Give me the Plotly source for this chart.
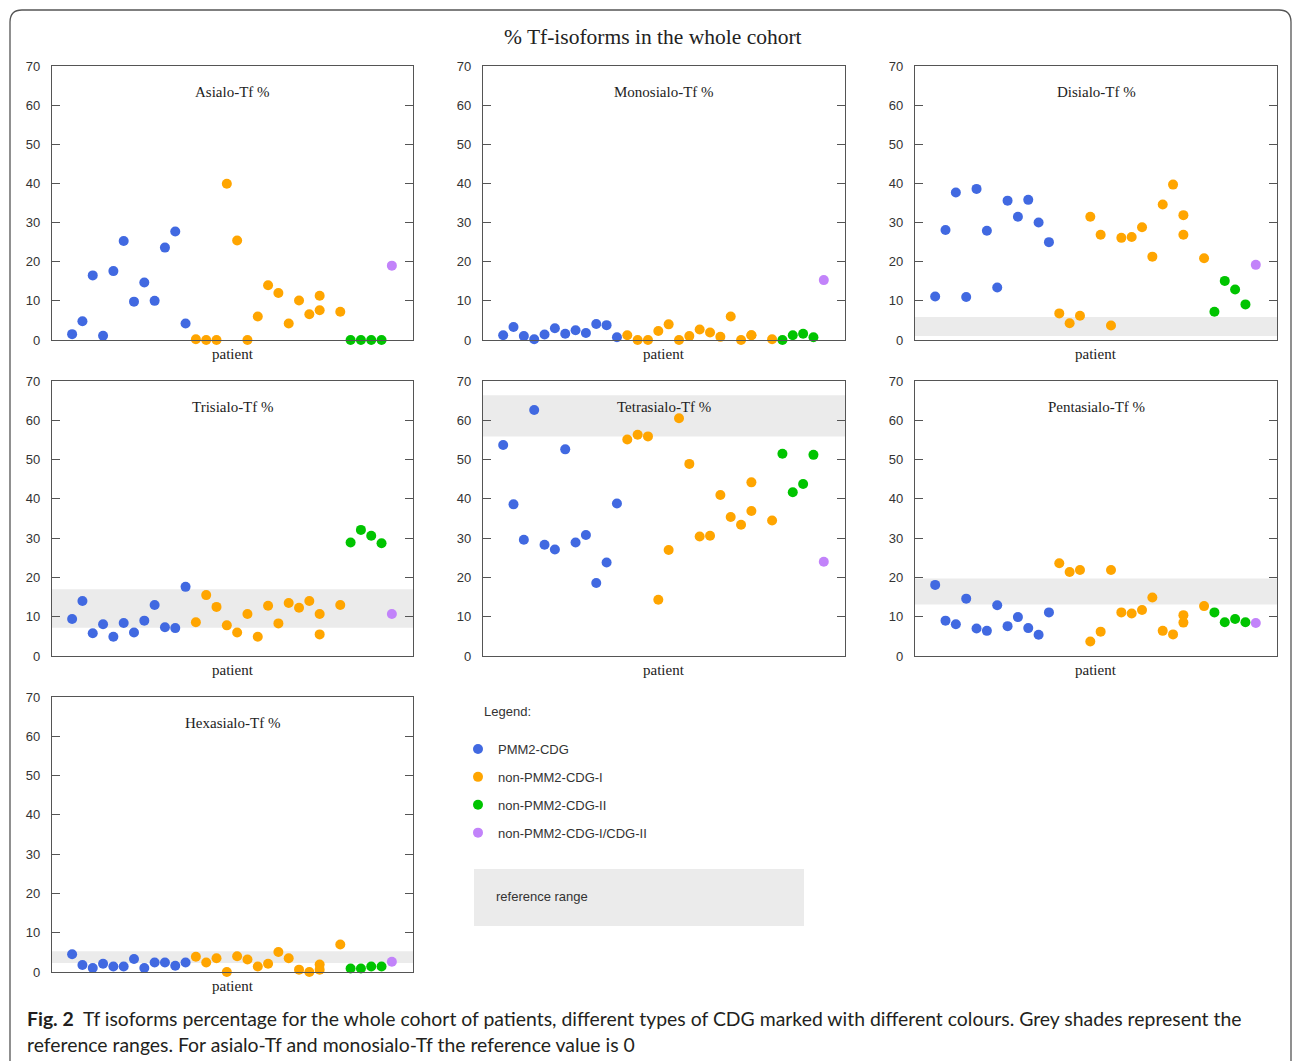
import plotly.graph_objects as go
from plotly.subplots import make_subplots

# ---------------- data ----------------
groups = ["PMM2-CDG", "non-PMM2-CDG-I", "non-PMM2-CDG-II", "non-PMM2-CDG-I/CDG-II"]
group_colors = ["#4169E1", "#FFA500", "#00C400", "#C283FA"]

patient_pmm2 = [1, 2, 3, 4, 5, 6, 7, 8, 9, 10, 11, 12]
patient_non1 = [13, 14, 15, 16, 17, 18, 19, 20, 21, 22, 23, 24, 25, 25, 27]
patient_non2 = [28, 29, 30, 31]
patient_mixed = [32]

isoforms = ["Asialo-Tf %", "Monosialo-Tf %", "Disialo-Tf %", "Trisialo-Tf %",
            "Tetrasialo-Tf %", "Pentasialo-Tf %", "Hexasialo-Tf %"]

asialo_pmm2 = [1.5, 4.8, 16.5, 1.1, 17.6, 25.3, 9.8, 14.7, 10.0, 23.6, 27.7, 4.2]
asialo_non1 = [0.2, 0, 0, 39.9, 25.4, 0, 6.0, 14.0, 12.0, 4.2, 10.1, 6.6, 7.6, 11.3, 7.2]
asialo_non2 = [0, 0, 0, 0]
asialo_mixed = [19.0]

mono_pmm2 = [1.2, 3.3, 1.0, 0.2, 1.4, 3.0, 1.6, 2.5, 1.8, 4.1, 3.8, 0.7]
mono_non1 = [1.2, 0, 0, 2.3, 4.0, 0, 1.0, 2.7, 1.9, 0.8, 6.0, 0, 1.2, 1.2, 0.2]
mono_non2 = [0, 1.2, 1.6, 0.7]
mono_mixed = [15.3]

di_pmm2 = [11.1, 28.1, 37.7, 11.0, 38.6, 27.9, 13.4, 35.6, 31.5, 35.8, 30.0, 25.0]
di_non1 = [6.8, 4.3, 6.2, 31.5, 26.9, 3.7, 26.1, 26.3, 28.8, 21.3, 34.6, 39.7, 31.9, 26.9, 20.9]
di_non2 = [7.2, 15.1, 12.9, 9.1]
di_mixed = [19.2]

tri_pmm2 = [9.4, 14.0, 5.8, 8.1, 4.9, 8.4, 6.0, 9.0, 13.0, 7.3, 7.1, 17.6]
tri_non1 = [8.6, 15.5, 12.5, 7.8, 6.0, 10.7, 4.9, 12.8, 8.3, 13.5, 12.3, 14.0, 10.7, 5.5, 13.0]
tri_non2 = [28.9, 32.1, 30.6, 28.7]
tri_mixed = [10.7]

tetra_pmm2 = [53.7, 38.6, 29.6, 62.6, 28.3, 27.1, 52.6, 28.9, 30.8, 18.6, 23.8, 38.8]
tetra_non1 = [55.1, 56.3, 55.9, 14.3, 27.0, 60.5, 48.9, 30.4, 30.6, 41.0, 35.4, 33.4, 44.2, 36.9, 34.5]
tetra_non2 = [51.5, 41.7, 43.8, 51.2]
tetra_mixed = [24.0]

penta_pmm2 = [18.1, 9.0, 8.1, 14.6, 7.0, 6.4, 12.9, 7.6, 9.9, 7.1, 5.4, 11.1]
penta_non1 = [23.6, 21.4, 21.9, 3.7, 6.2, 21.9, 11.1, 10.8, 11.7, 14.9, 6.4, 5.5, 10.4, 8.5, 12.7]
penta_non2 = [11.1, 8.6, 9.4, 8.6]
penta_mixed = [8.4]

hexa_pmm2 = [4.5, 1.8, 1.0, 2.1, 1.4, 1.4, 3.3, 1.0, 2.4, 2.4, 1.6, 2.4]
hexa_non1 = [3.9, 2.4, 3.5, 0, 4.0, 3.2, 1.4, 2.1, 5.1, 3.5, 0.6, 0, 1.9, 0.6, 7.0]
hexa_non2 = [0.9, 0.9, 1.4, 1.4]
hexa_mixed = [2.6]

# reference ranges (None = reference value is 0)
ref_low = [None, None, 1.0, 7.2, 55.9, 13.1, 2.3]
ref_high = [None, None, 5.9, 17.0, 66.4, 19.7, 5.3]

y_ticks = [0, 10, 20, 30, 40, 50, 60, 70]

series = [
    [asialo_pmm2, asialo_non1, asialo_non2, asialo_mixed],
    [mono_pmm2, mono_non1, mono_non2, mono_mixed],
    [di_pmm2, di_non1, di_non2, di_mixed],
    [tri_pmm2, tri_non1, tri_non2, tri_mixed],
    [tetra_pmm2, tetra_non1, tetra_non2, tetra_mixed],
    [penta_pmm2, penta_non1, penta_non2, penta_mixed],
    [hexa_pmm2, hexa_non1, hexa_non2, hexa_mixed],
]
patients = [patient_pmm2, patient_non1, patient_non2, patient_mixed]

# ---------------- layout helpers ----------------
W, H = 1293, 1061
def px(x):
    return x / W
def py(y):
    return 1 - y / H

col_px = [(52, 413), (483, 845), (915, 1277)]
row_px = [(66, 340), (381, 656), (697, 972)]
positions = [(0, 0), (0, 1), (0, 2), (1, 0), (1, 1), (1, 2), (2, 0)]

fig = make_subplots(rows=3, cols=3,
                    specs=[[{}, {}, {}], [{}, {}, {}], [{}, None, None]])

serif = "Liberation Serif, Times New Roman, serif"
sans = "Liberation Sans, Arial, sans-serif"
line_col = "#555555"

annotations = []
shapes = []
for i, name in enumerate(isoforms):
    r, c = positions[i]
    for g in range(4):
        fig.add_trace(go.Scatter(
            x=patients[g], y=series[i][g], mode="markers",
            marker=dict(color=group_colors[g], size=10, line=dict(width=0)),
            name=groups[g], legendgroup=groups[g], showlegend=(i == 0),
            cliponaxis=False,
            hovertemplate=name + "<br>patient %{x}: %{y}<extra>" + groups[g] + "</extra>"),
            row=r + 1, col=c + 1)
    x0, x1 = col_px[c]
    y0, y1 = row_px[r]
    fig.update_xaxes(domain=[px(x0), px(x1)], range=[-0.95, 34.05], automargin=False,
                     showticklabels=False, ticks="", showgrid=False, zeroline=False,
                     showline=True, mirror=True, linecolor=line_col, linewidth=1.3,
                     row=r + 1, col=c + 1)
    fig.update_yaxes(domain=[py(y1), py(y0)], range=[0, 70], tickvals=y_ticks,
                     automargin=False,
                     ticks="inside", ticklen=8, tickwidth=1.3, tickcolor=line_col,
                     showgrid=False, zeroline=False,
                     showline=True, mirror="ticks", linecolor=line_col, linewidth=1.3,
                     tickfont=dict(family=sans, size=13, color="#333333"),
                     ticklabelstandoff=8,
                     row=r + 1, col=c + 1)
    # subplot title
    annotations.append(dict(text=name, x=px((x0 + x1) / 2), y=py(y0 + 26),
                            xref="paper", yref="paper", showarrow=False,
                            xanchor="center", yanchor="middle",
                            font=dict(family=serif, size=15, color="#222222")))
    annotations.append(dict(text="patient", x=px((x0 + x1) / 2), y=py(y1 + 14),
                            xref="paper", yref="paper", showarrow=False,
                            xanchor="center", yanchor="middle",
                            font=dict(family=serif, size=15, color="#222222")))
    if ref_low[i] is not None:
        idx = i + 1
        ax = "" if idx == 1 else str(idx)
        shapes.append(dict(type="rect", xref=f"x{ax} domain", yref=f"y{ax}",
                           x0=0, x1=1, y0=ref_low[i], y1=ref_high[i],
                           fillcolor="#EBEBEB", line=dict(width=0), layer="below"))

# main title
annotations.append(dict(text="% Tf-isoforms in the whole cohort", x=px(653), y=py(37),
                        xref="paper", yref="paper", showarrow=False,
                        xanchor="center", yanchor="middle",
                        font=dict(family=serif, size=21.5, color="#222222")))
# legend header and reference range box
annotations.append(dict(text="Legend:", x=px(482), y=py(711), xref="paper", yref="paper",
                        showarrow=False, xanchor="left", yanchor="middle",
                        font=dict(family=sans, size=13, color="#333333")))
shapes.append(dict(type="rect", xref="paper", yref="paper",
                   x0=px(474), x1=px(804), y0=py(926), y1=py(869),
                   fillcolor="#EBEBEB", line=dict(width=0), layer="below"))
annotations.append(dict(text="reference range", x=px(494), y=py(896), xref="paper", yref="paper",
                        showarrow=False, xanchor="left", yanchor="middle",
                        font=dict(family=sans, size=13, color="#333333")))
# caption
cap_font = dict(family="Lato, Noto Sans, sans-serif", size=19.4, color="#231F20")
annotations.append(dict(
    text="<b>Fig. 2</b>  Tf isoforms percentage for the whole cohort of patients, different types of CDG marked with different colours. Grey shades represent the",
    x=px(25), y=py(1018), xref="paper", yref="paper", showarrow=False,
    xanchor="left", yanchor="middle", font=cap_font))
annotations.append(dict(
    text="reference ranges. For asialo-Tf and monosialo-Tf the reference value is 0",
    x=px(25), y=py(1044), xref="paper", yref="paper", showarrow=False,
    xanchor="left", yanchor="middle", font=cap_font))

# outer rounded frame
rr = 12
frame_path = (f"M {px(10)},{py(1061)} L {px(10)},{py(10 + rr)} "
              f"Q {px(10)},{py(10)} {px(10 + rr)},{py(10)} "
              f"L {px(1291 - rr)},{py(10)} Q {px(1291)},{py(10)} {px(1291)},{py(10 + rr)} "
              f"L {px(1291)},{py(1061)}")
shapes.append(dict(type="path", xref="paper", yref="paper", path=frame_path,
                   line=dict(color="#555555", width=1.3)))

fig.update_layout(
    width=W, height=H, autosize=False,
    margin=dict(l=0, r=0, t=0, b=0, pad=0, autoexpand=False),
    paper_bgcolor="white", plot_bgcolor="white",
    annotations=annotations, shapes=shapes,
    showlegend=True,
    legend=dict(x=px(458), y=py(734), xanchor="left", yanchor="top",
                font=dict(family=sans, size=13, color="#333333"),
                bgcolor="rgba(0,0,0,0)", tracegroupgap=8, itemwidth=30,
                itemclick="toggle"),
)

post = ("document.documentElement.style.margin='0';"
        "document.body.style.margin='0';document.body.style.padding='0';"
        "document.body.style.overflow='hidden';"
        "var d=document.getElementById('{plot_id}');"
        "d.style.position='absolute';d.style.left='0px';d.style.top='0px';")
fig.write_html("out.html", post_script=post, config={"displayModeBar": False})
